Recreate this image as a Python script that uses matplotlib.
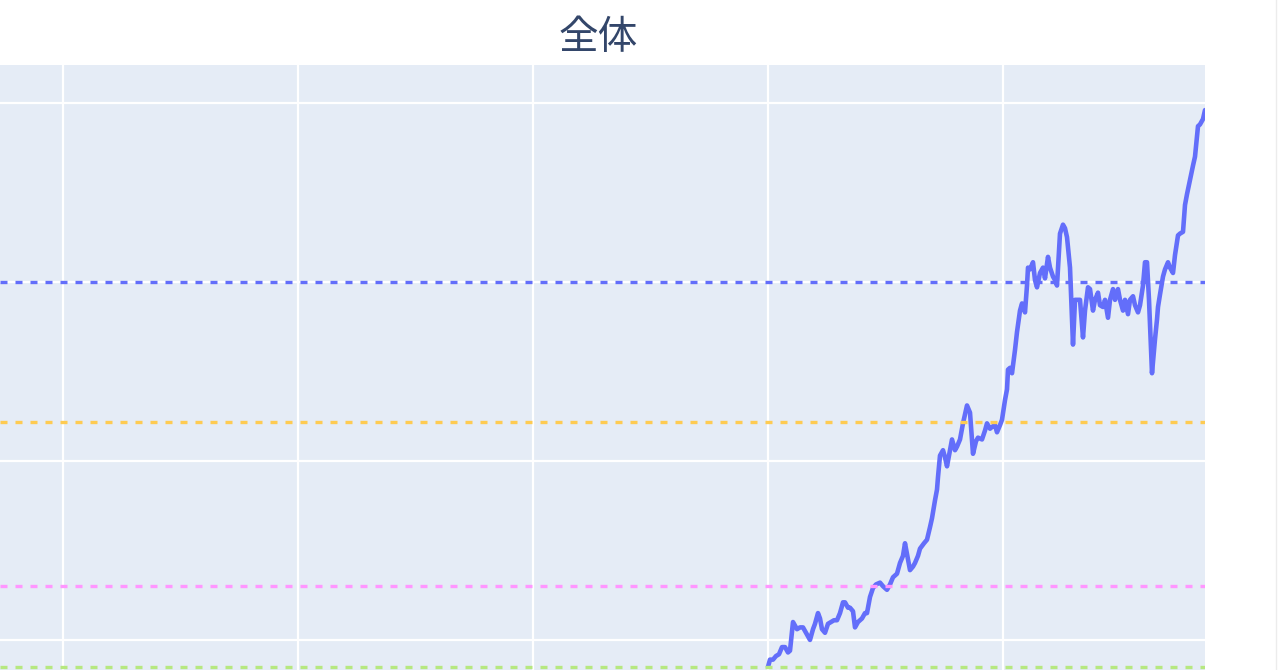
import matplotlib.pyplot as plt
import matplotlib.lines as mlines
import numpy as np

# series: day index and value
days = [0, 2, 5, 8, 11, 14, 17, 20, 22, 25, 29, 32, 35, 38, 42, 45, 47, 50, 52, 54,
        57, 60, 63, 66, 69, 72, 75, 77, 80, 82, 85, 87, 90, 94, 97, 99, 102, 105, 108, 112,
        115, 119, 122, 125, 129, 132, 135, 137, 140, 142, 145, 147, 150, 152, 156, 159, 162, 164, 167, 169,
        170, 172, 175, 177, 179, 182, 184, 187, 189, 192, 195, 197, 199, 202, 204, 205, 208, 210, 214, 217,
        219, 222, 224, 227, 229, 232, 234, 237, 239, 240, 242, 244, 247, 249, 252, 254, 257, 259, 260, 262,
        265, 267, 269, 272, 275, 277, 280, 282, 285, 287, 289, 292, 295, 297, 299, 302, 304, 305, 307, 310,
        312, 315, 317, 320, 322, 325, 327, 330, 332, 335, 337, 340, 342, 345, 347, 350, 352, 355, 357, 360,
        362, 365, 367, 370, 372, 375, 377, 379, 381, 383, 384, 387, 389, 390, 392, 395, 397, 400, 402, 405,
        407, 410, 412, 415, 417, 419, 422, 425, 427, 430, 432, 435, 437]
values = [-15, -11, -11, -9, -8, -4, -4, -7, -6, 10, 6, 7, 7, 4, 0, 6, 9, 15, 12, 6,
          4, 9, 10, 11, 11, 15, 21, 21, 18, 18, 16, 7, 10, 12, 15, 15, 24, 29, 31, 32,
          30, 28, 31, 35, 37, 43, 47, 54, 45, 39, 41, 43, 47, 51, 54, 56, 63, 68, 78, 84,
          91, 103, 106, 102, 97, 106, 112, 106, 108, 112, 121, 126, 131, 127, 112, 104, 111, 113, 112, 117,
          121, 118, 119, 120, 116, 120, 123, 134, 140, 151, 152, 149, 162, 172, 184, 188, 183, 198, 208, 207,
          211, 201, 197, 205, 208, 202, 214, 208, 203, 201, 198, 227, 232, 230, 225, 208, 179, 165, 190, 190,
          190, 169, 184, 197, 196, 184, 190, 194, 187, 186, 190, 180, 190, 196, 190, 196, 190, 184, 190, 182,
          190, 192, 187, 183, 187, 198, 211, 211, 190, 162, 149, 168, 179, 186, 193, 203, 207, 211, 208, 205,
          215, 226, 227, 228, 243, 249, 257, 265, 270, 287, 288, 291, 296]

# reference levels
level_values = [200, 122, 30, -15]
level_colors = ["#636efa", "#FECB52", "#FF97FF", "#B6E880"]

title = "全体"

fig = plt.figure(figsize=(12.8, 6.7), dpi=100)
ax = fig.add_axes([0, 0, 1205/1280, 605/670])
ax.set_facecolor("#E5ECF6")

ax.plot(days, values, color="#636efa", linewidth=3.3, zorder=3,
	solid_joinstyle="round", solid_capstyle="round")

for v, c in zip(level_values, level_colors):
	ax.axhline(v, color=c, linewidth=2.4, linestyle=(0, (2.1, 2.4)), zorder=4)

ax.set_xlim(-768, 437)
ax.set_ylim(-16.8, 321.2)
ax.set_xticks(np.arange(-705, 437, 235))
ax.set_yticks([0, 100, 200, 300])
ax.grid(True, color="white", linewidth=1.6)
ax.set_axisbelow(True)
ax.tick_params(length=0, labelbottom=False, labelleft=False)
for s in ax.spines.values():
	s.set_visible(False)

fig.text(598/1280, 1 - 38/670, title, ha="center", va="center", fontsize=28.5,
	color="#33466a", family=["Noto Sans CJK JP", "DejaVu Sans"])

fig.add_artist(mlines.Line2D([1276/1280, 1276/1280], [0, 1], color="#ececec", linewidth=1))

plt.savefig("out.png", dpi=100)
